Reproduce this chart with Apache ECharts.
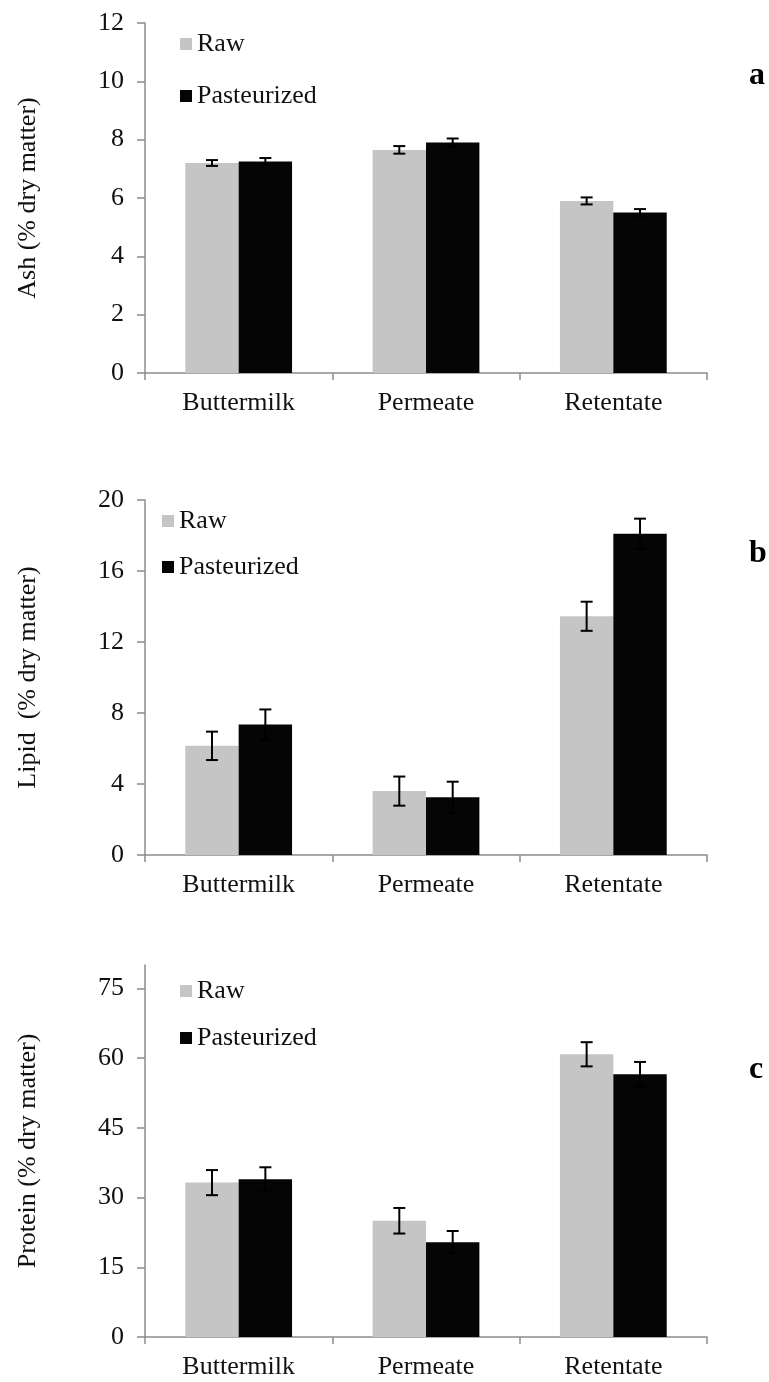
<!DOCTYPE html>
<html>
<head>
<meta charset="utf-8">
<title>Ash, lipid and protein content</title>
<script src="https://cdn.jsdelivr.net/npm/echarts@6/dist/echarts.min.js"></script>
<style>
  html, body { margin: 0; padding: 0; background: #ffffff; }
  #chart { width: 769px; height: 1382px; }
</style>
</head>
<body>
<div id="chart"></div>
<script>
// Sample categories
const categories = ['Buttermilk', 'Permeate', 'Retentate'];

// Ash (% dry matter): means and error half-widths
const ashRaw = [7.2, 7.65, 5.9];
const ashRawErr = [0.1, 0.13, 0.12];
const ashPast = [7.25, 7.9, 5.5];
const ashPastErr = [0.12, 0.14, 0.12];

// Lipid (% dry matter)
const lipidRaw = [6.15, 3.6, 13.45];
const lipidRawErr = [0.8, 0.82, 0.82];
const lipidPast = [7.35, 3.25, 18.1];
const lipidPastErr = [0.85, 0.88, 0.85];

// Protein (% dry matter)
const proteinRaw = [33.2, 25.0, 60.8];
const proteinRawErr = [2.7, 2.75, 2.6];
const proteinPast = [33.9, 20.4, 56.5];
const proteinPastErr = [2.6, 2.4, 2.65];

// Axis tick labels
const ashTicks = [0, 2, 4, 6, 8, 10, 12];
const lipidTicks = [0, 4, 8, 12, 16, 20];
const proteinTicks = [0, 15, 30, 45, 60, 75];

const SERIF = "'Liberation Serif', 'Times New Roman', serif";
const BAR_FRAC = 0.285;
const RAW_COLOR = '#c5c5c5';
const PAST_COLOR = '#050505';
const AXIS_COLOR = '#8c8c8c';
const TEXT_COLOR = '#111111';

const grids = [
  { left: 145, right: 62, top: 23, height: 350 },
  { left: 145, right: 62, top: 500, height: 355 },
  { left: 145, right: 62, top: 965, height: 372 }
];

function xAxisFor(i) {
  return {
    type: 'category', gridIndex: i, data: categories,
    axisLine: { lineStyle: { color: AXIS_COLOR, width: 1.5 } },
    axisTick: { show: true, length: 7, lineStyle: { color: AXIS_COLOR, width: 1.5 } },
    axisLabel: { color: TEXT_COLOR, fontFamily: SERIF, fontSize: 26, margin: 17 }
  };
}

function yAxisFor(i, name, max, interval, ticks) {
  return {
    type: 'value', gridIndex: i, min: 0, max: max, interval: interval,
    name: name, nameLocation: 'middle', nameRotate: 90, nameGap: 104,
    nameTextStyle: { color: TEXT_COLOR, fontFamily: SERIF, fontSize: 26 },
    splitLine: { show: false },
    axisLine: { show: true, lineStyle: { color: AXIS_COLOR, width: 1.5 } },
    axisTick: { show: true, length: 8, customValues: ticks, lineStyle: { color: AXIS_COLOR, width: 1.5 } },
    axisLabel: { color: TEXT_COLOR, fontFamily: SERIF, fontSize: 26, margin: 21, customValues: ticks }
  };
}

function barSeries(i, name, values, color) {
  return {
    type: 'bar', name: name, xAxisIndex: i, yAxisIndex: i,
    data: values, barWidth: (BAR_FRAC * 100) + '%', barGap: '0%',
    itemStyle: { color: color }
  };
}

// Error bars: vertical whisker with caps, shifted to the centre of its bar
function renderErr(params, api) {
  const cat = api.value(0), mean = api.value(1), err = api.value(2), grp = api.value(3);
  const band = api.size([1, 0])[0];
  const dx = (grp === 0 ? -1 : 1) * band * BAR_FRAC / 2;
  const top = api.coord([cat, mean + err]);
  const bot = api.coord([cat, mean - err]);
  const x = top[0] + dx;
  const cap = 6;
  const style = { stroke: '#000', lineWidth: 2 };
  return {
    type: 'group',
    children: [
      { type: 'line', shape: { x1: x, y1: top[1], x2: x, y2: bot[1] }, style: style },
      { type: 'line', shape: { x1: x - cap, y1: top[1], x2: x + cap, y2: top[1] }, style: style },
      { type: 'line', shape: { x1: x - cap, y1: bot[1], x2: x + cap, y2: bot[1] }, style: style }
    ]
  };
}

function errSeries(i, raw, rawErr, past, pastErr) {
  const data = [];
  categories.forEach((c, k) => {
    data.push([k, raw[k], rawErr[k], 0]);
    data.push([k, past[k], pastErr[k], 1]);
  });
  return {
    type: 'custom', xAxisIndex: i, yAxisIndex: i, z: 5,
    renderItem: renderErr, data: data, encode: { x: 0, y: 1 }, silent: true
  };
}

function legendFor(left, top, gap) {
  return {
    data: ['Raw', 'Pasteurized'], orient: 'vertical', left: left, top: top,
    itemGap: gap, itemWidth: 12, itemHeight: 12, icon: 'rect',
    textStyle: { color: TEXT_COLOR, fontFamily: SERIF, fontSize: 26 }
  };
}

function panelLetter(text, top) {
  return {
    text: text, left: 744, top: top,
    textStyle: { color: '#000', fontFamily: SERIF, fontSize: 32, fontWeight: 'bold' }
  };
}

const option = {
  backgroundColor: '#ffffff',
  animation: false,
  title: [panelLetter('a', 55), panelLetter('b', 533), panelLetter('c', 1049)],
  legend: [legendFor(175, 26, 26), legendFor(157, 503, 20), legendFor(175, 973, 21)],
  grid: grids,
  xAxis: [xAxisFor(0), xAxisFor(1), xAxisFor(2)],
  yAxis: [
    yAxisFor(0, 'Ash (% dry matter)', 12, 2, ashTicks),
    yAxisFor(1, 'Lipid  (% dry matter)', 20, 4, lipidTicks),
    yAxisFor(2, 'Protein (% dry matter)', 80, 15, proteinTicks)
  ],
  series: [
    barSeries(0, 'Raw', ashRaw, RAW_COLOR),
    barSeries(0, 'Pasteurized', ashPast, PAST_COLOR),
    errSeries(0, ashRaw, ashRawErr, ashPast, ashPastErr),
    barSeries(1, 'Raw', lipidRaw, RAW_COLOR),
    barSeries(1, 'Pasteurized', lipidPast, PAST_COLOR),
    errSeries(1, lipidRaw, lipidRawErr, lipidPast, lipidPastErr),
    barSeries(2, 'Raw', proteinRaw, RAW_COLOR),
    barSeries(2, 'Pasteurized', proteinPast, PAST_COLOR),
    errSeries(2, proteinRaw, proteinRawErr, proteinPast, proteinPastErr)
  ]
};

const chart = echarts.init(document.getElementById('chart'), null, { renderer: 'canvas' });
chart.setOption(option);
</script>
</body>
</html>
